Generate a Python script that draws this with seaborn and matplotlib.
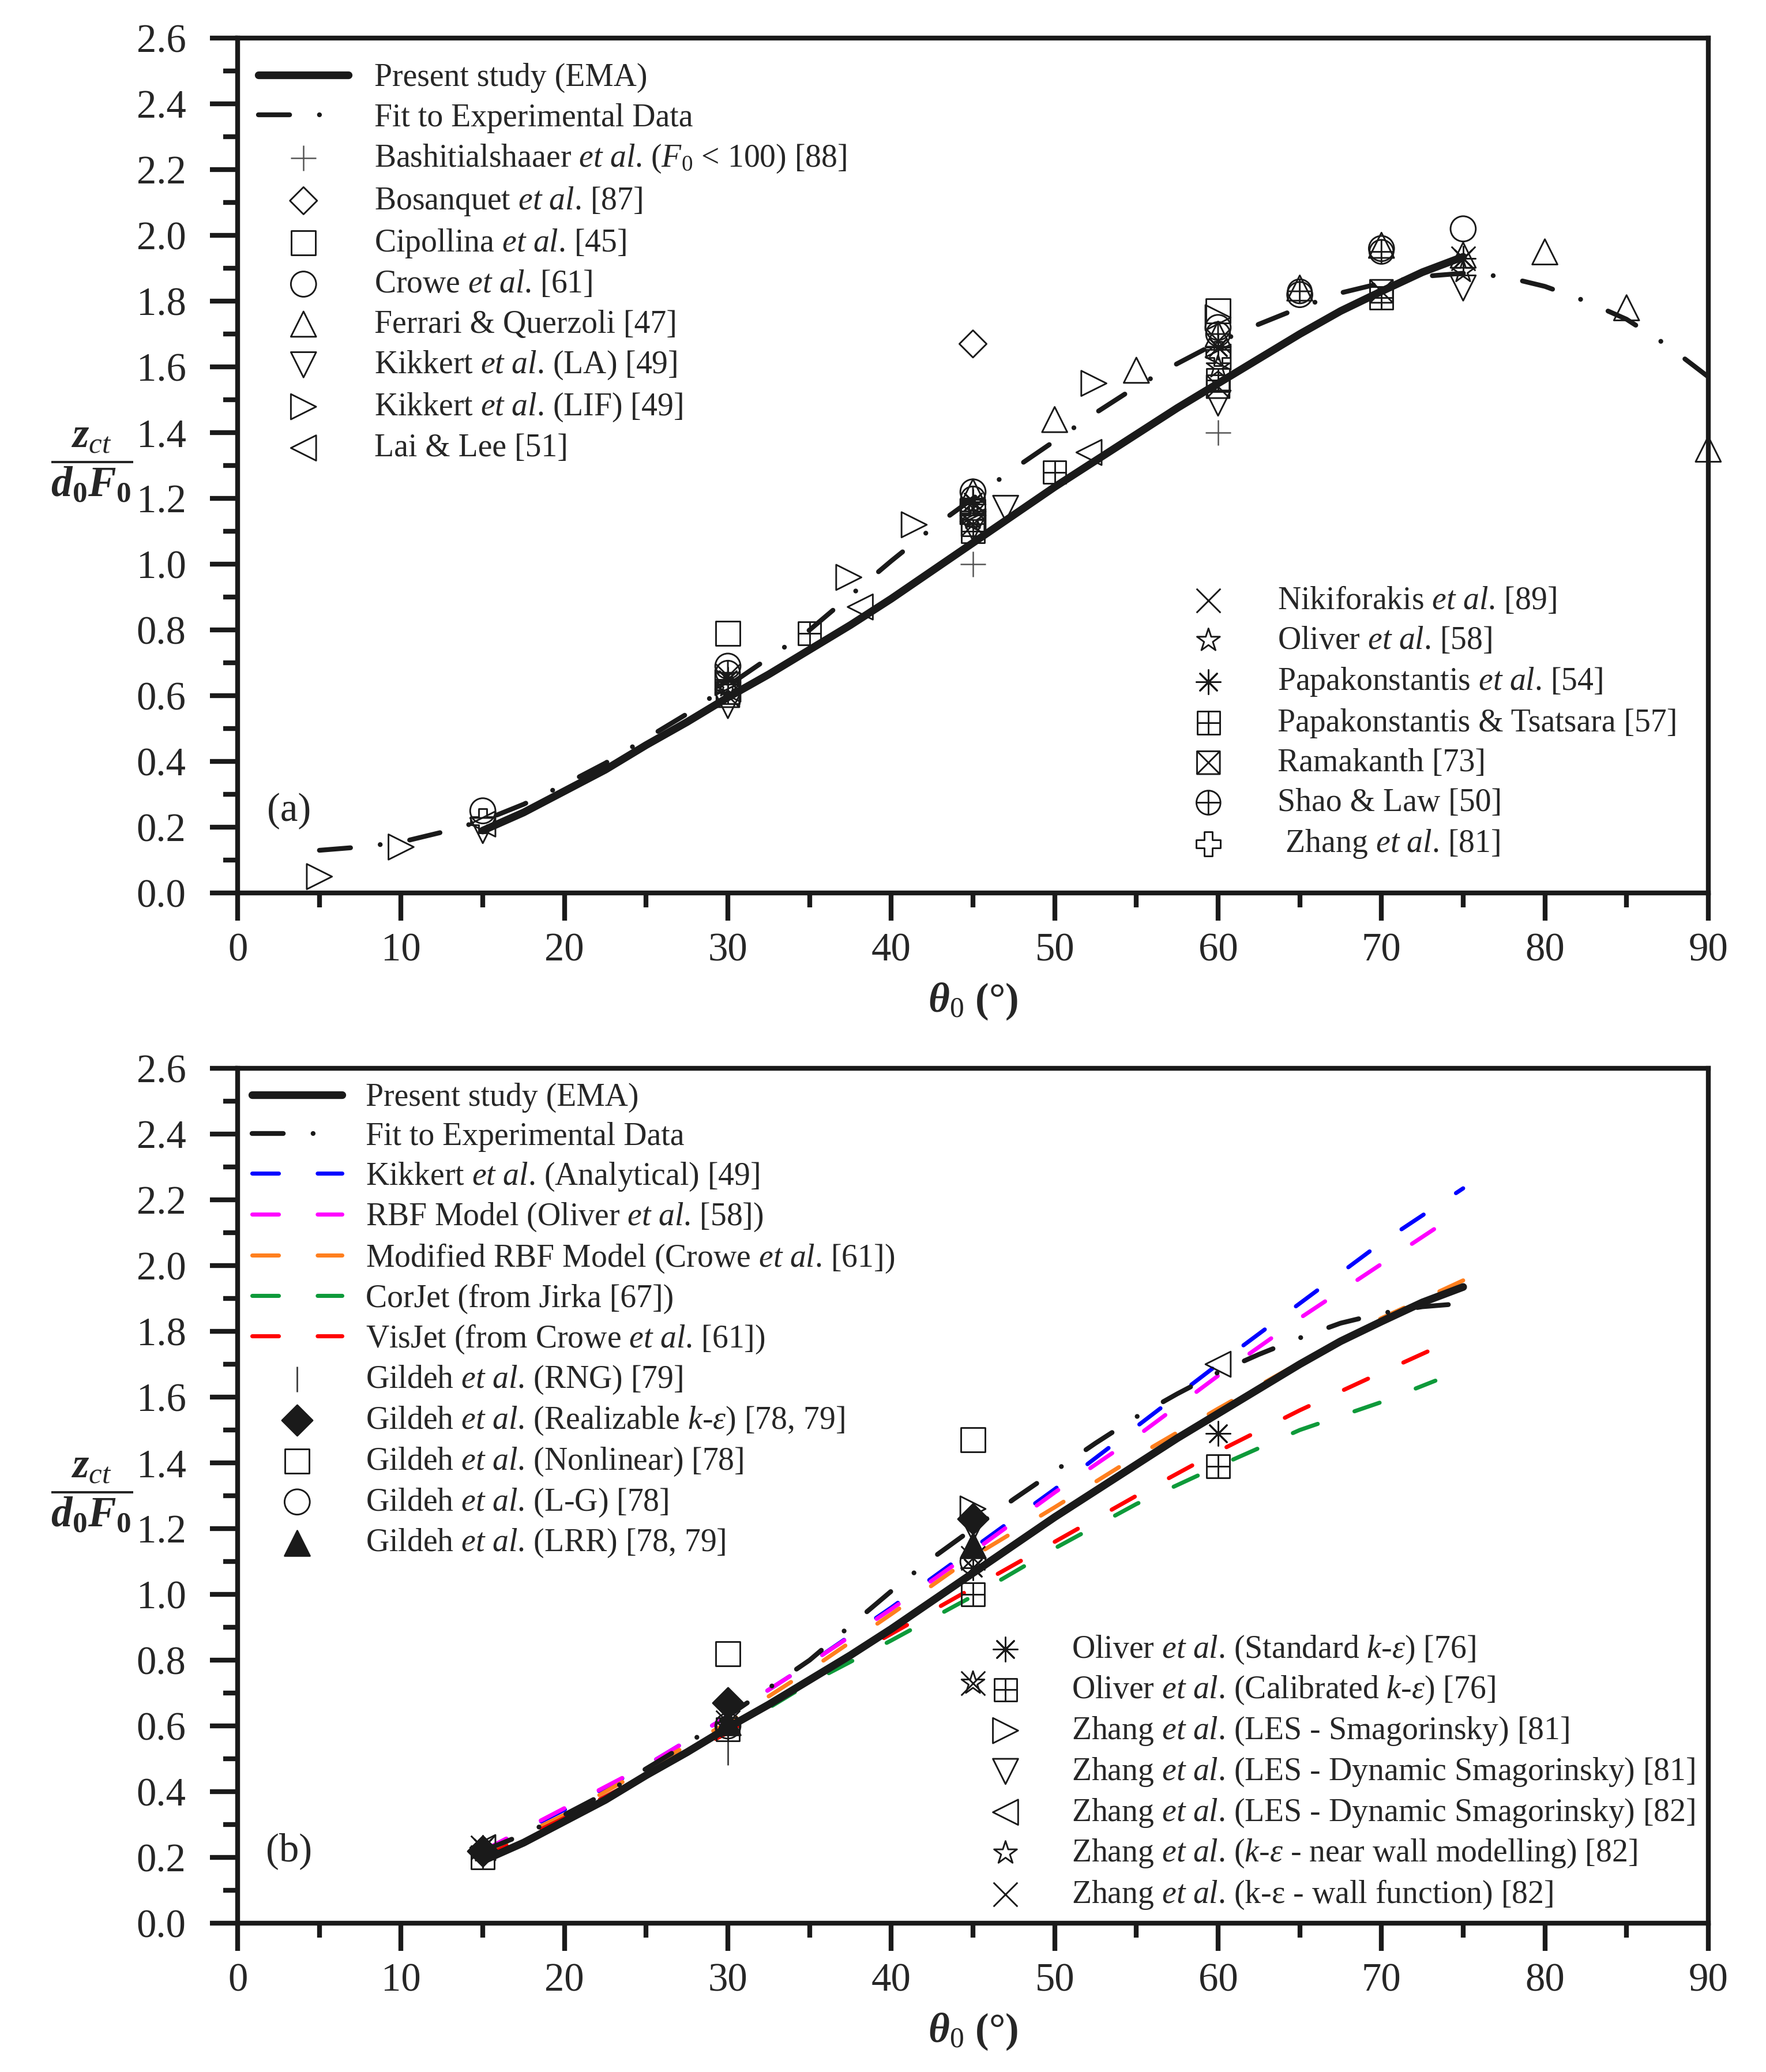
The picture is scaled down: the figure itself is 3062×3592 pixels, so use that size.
import numpy as np
import matplotlib
matplotlib.use("Agg")
import matplotlib.pyplot as plt
import seaborn as sns
from matplotlib.path import Path
from matplotlib.markers import MarkerStyle
from matplotlib.ticker import MultipleLocator, FormatStrFormatter

# ---------------- data: panel (a) ----------------
ema_x = [15, 17.5, 20, 22.5, 25, 27.5, 30, 32.5, 35, 37.5, 40, 42.5, 45, 47.5,
         50, 52.5, 55, 57.5, 60, 62.5, 65, 67.5, 70, 72.5, 75]
ema_y = [0.19, 0.245, 0.31, 0.375, 0.45, 0.52, 0.595, 0.665, 0.74, 0.815, 0.895, 0.98, 1.065, 1.15,
         1.235, 1.315, 1.395, 1.475, 1.55, 1.625, 1.70, 1.77, 1.83, 1.888, 1.935]

fit_x = [5, 7.5, 10, 12.5, 15, 17.5, 20, 22.5, 25, 27.5, 30, 32.5, 35, 37.5, 40, 42.5, 45,
         47.5, 50, 52.5, 55, 57.5, 60, 62.5, 65, 67.5, 70, 72.5, 75, 77.5, 80, 82.5, 85, 87.5, 90]
fit_y = [0.13, 0.14, 0.155, 0.185, 0.22, 0.27, 0.33, 0.395, 0.47, 0.545, 0.63, 0.715, 0.80, 0.905,
         1.01, 1.11, 1.20, 1.29, 1.375, 1.46, 1.54, 1.61, 1.675, 1.73, 1.78, 1.825, 1.855, 1.875,
         1.885, 1.875, 1.845, 1.80, 1.745, 1.665, 1.57]

bash_x = [45, 60]; bash_y = [1.00, 1.40]
bosq_x = [45]; bosq_y = [1.67]
cipo_x = [30, 45, 60]; cipo_y = [0.79, 1.16, 1.77]
crowe_x = [15, 30, 45, 60, 65, 70, 75]; crowe_y = [0.25, 0.69, 1.22, 1.72, 1.82, 1.96, 2.02]
ferr_x = [45, 50, 55, 60, 65, 70, 75, 80, 85, 90]
ferr_y = [1.22, 1.44, 1.59, 1.70, 1.84, 1.97, 1.94, 1.95, 1.78, 1.35]
kla_x = [15, 30, 45, 47, 60, 75]; kla_y = [0.19, 0.57, 1.11, 1.17, 1.49, 1.84]
klif_x = [5, 10, 30, 37.4, 41.4, 45, 52.4, 60]; klif_y = [0.05, 0.14, 0.64, 0.96, 1.12, 1.16, 1.55, 1.75]
lai_x = [15, 30, 38.1, 45, 52.1, 60]; lai_y = [0.21, 0.62, 0.87, 1.13, 1.34, 1.63]
niki_x = [30, 45, 60, 75]; niki_y = [0.66, 1.17, 1.68, 1.93]
oliv_x = [30, 45, 60, 75]; oliv_y = [0.63, 1.14, 1.60, 1.89]
papa_x = [30, 45, 60, 75]; papa_y = [0.65, 1.19, 1.66, 1.93]
pats_x = [30, 35, 45, 50, 60, 70]; pats_y = [0.61, 0.79, 1.10, 1.28, 1.56, 1.81]
rama_x = [30, 45, 60, 70]; rama_y = [0.60, 1.12, 1.54, 1.83]
shao_x = [30, 45, 60, 65, 70]; shao_y = [0.67, 1.20, 1.70, 1.83, 1.95]
zh81_x = [15, 30, 45, 60]; zh81_y = [0.22, 0.63, 1.15, 1.64]

# ---------------- data: panel (b) ----------------
fitb_x = fit_x[4:29]; fitb_y = fit_y[4:29]
mod_x = [15, 20, 25, 30, 35, 40, 45, 50, 55, 60, 65, 70, 75]
kik_y = [0.22, 0.345, 0.48, 0.63, 0.79, 0.96, 1.14, 1.32, 1.51, 1.70, 1.885, 2.07, 2.235]
rbf_x = [15, 20, 25, 30, 35, 40, 45, 50, 55, 60, 65, 70, 73.5]
rbf_y = [0.22, 0.35, 0.48, 0.63, 0.79, 0.955, 1.13, 1.31, 1.48, 1.665, 1.84, 2.005, 2.12]
mrbf_y = [0.21, 0.33, 0.47, 0.61, 0.77, 0.94, 1.115, 1.265, 1.42, 1.565, 1.705, 1.84, 1.955]
cj_x = [15, 20, 25, 30, 35, 40, 45, 50, 55, 60, 65, 70, 73.3]
cj_y = [0.20, 0.32, 0.45, 0.58, 0.73, 0.86, 0.995, 1.14, 1.275, 1.39, 1.50, 1.585, 1.65]
vj_x = [15, 20, 25, 30, 35, 40, 45, 50, 55, 60, 65, 70, 73.1]
vj_y = [0.20, 0.32, 0.45, 0.58, 0.74, 0.88, 1.02, 1.16, 1.30, 1.435, 1.56, 1.675, 1.745]

rng_x = [15, 30, 45]; rng_y = [0.21, 0.52, 1.10]
real_x = [15, 30, 45]; real_y = [0.22, 0.67, 1.23]
nonl_x = [30, 45]; nonl_y = [0.82, 1.47]
lg_x = [30, 45]; lg_y = [0.60, 1.10]
lrr_x = [30, 45]; lrr_y = [0.61, 1.15]
olst_x = [15, 45, 60]; olst_y = [0.23, 1.08, 1.49]
olca_x = [15, 30, 45, 60]; olca_y = [0.20, 0.59, 1.00, 1.39]
zles_x = [45]; zles_y = [1.26]
zdyn81_x = [45]; zdyn81_y = [1.20]
zdyn82_x = [15, 60]; zdyn82_y = [0.23, 1.70]
znw_x = [15, 30, 45]; znw_y = [0.22, 0.60, 0.73]
zwf_x = [15, 30, 45, 45]; zwf_y = [0.23, 0.61, 1.11, 0.73]

# ---------------- style ----------------
sns.set_theme(style="white")
plt.rcParams['font.family'] = ['Liberation Serif', 'DejaVu Serif']
plt.rcParams['mathtext.fontset'] = 'custom'
plt.rcParams['mathtext.rm'] = 'Liberation Serif'
plt.rcParams['mathtext.it'] = 'Liberation Serif:italic'
plt.rcParams['mathtext.bf'] = 'Liberation Serif:bold'
plt.rcParams['mathtext.bfit'] = 'Liberation Serif:bold:italic'

M, L, C = Path.MOVETO, Path.LINETO, Path.CLOSEPOLY
sq_v = [(-1, -1), (1, -1), (1, 1), (-1, 1), (-1, -1)]
sq_c = [M, L, L, L, C]
boxplus = Path(sq_v + [(0, -1), (0, 1), (-1, 0), (1, 0)], sq_c + [M, L, M, L])
boxx = Path(sq_v + [(-1, -1), (1, 1), (-1, 1), (1, -1)], sq_c + [M, L, M, L])
circplus = Path.make_compound_path(Path.unit_circle(),
                                   Path([(0, -1), (0, 1), (-1, 0), (1, 0)], [M, L, M, L]))
asterisk = (8, 2, 0)

EC = '#1a1a1a'
FS_LEG = 13.4


def pts(ax, x, y, marker, label, ms=10.5, fill='none', lw=0.7, color=EC):
    kw = dict(s=ms ** 2, marker=marker, linewidth=lw, legend=False, ax=ax,
              label=label, zorder=4, clip_on=False)
    if MarkerStyle(marker).is_filled():
        kw.update(facecolor=fill, edgecolor=color)
    else:
        kw.update(color=color)
    sns.scatterplot(x=x, y=y, **kw)
    return ax.collections[-1]


def line(ax, x, y, label, color, lw, ls, z=3):
    sns.lineplot(x=x, y=y, ax=ax, color=color, lw=lw, linestyle=ls, label=label,
                 legend=False, sort=False, estimator=None, zorder=z,
                 dash_capstyle='round', solid_capstyle='round', solid_joinstyle='round')
    return ax.lines[-1]


ETAL = r'$\mathit{et\ al}$.'
KE = r'$\mathit{k}$-$\mathit{\varepsilon}$'
DASH = (0, (6.5, 9.5))
DASHDOT = (0, (6.5, 6.2, 0.01, 6.2))

fig = plt.figure(figsize=(3062 / 300, 3592 / 300), dpi=300)
axa = fig.add_axes([0.1346, 0.5690, 0.8327, 0.4126])
axb = fig.add_axes([0.1346, 0.0718, 0.8327, 0.4126])


def style_axis(ax, lab):
    ax.set_xlim(0, 90)
    ax.set_ylim(0, 2.6)
    ax.xaxis.set_major_locator(MultipleLocator(10))
    ax.xaxis.set_minor_locator(MultipleLocator(5))
    ax.yaxis.set_major_locator(MultipleLocator(0.2))
    ax.yaxis.set_minor_locator(MultipleLocator(0.1))
    ax.yaxis.set_major_formatter(FormatStrFormatter('%.1f'))
    ax.tick_params(which='both', direction='out', width=2, color='k',
                   bottom=True, left=True, top=False, right=False)
    ax.tick_params(which='major', length=11.5, labelsize=16.5)
    ax.tick_params(which='minor', length=6)
    ax.tick_params(axis='y', which='major', pad=10)
    ax.tick_params(axis='x', which='major', pad=5)
    for s in ax.spines.values():
        s.set_linewidth(2)
        s.set_color('k')
    ax.set_facecolor('white')
    ax.grid(False)
    ax.set_xlabel(r'$\mathbfit{\theta}_0$ (°)', fontsize=17, fontweight='bold', labelpad=5)
    ax.set_ylabel(r'$\dfrac{\mathbfit{z}_{\mathit{ct}}}{\mathbfit{d}_{\mathbf{0}}\mathbfit{F}_{\mathbf{0}}}$',
                  fontsize=17.5, rotation=0, va='center', ha='center')
    ax.yaxis.set_label_coords(-0.099, 0.5)
    ax.text(0.035, 0.096 if lab == '(a)' else 0.084, lab, transform=ax.transAxes,
            fontsize=16.5, ha='center', va='center')


# ---------------- panel (a) ----------------
h_ema = line(axa, ema_x, ema_y, 'Present study (EMA)', 'k', 3.2, '-', z=5)
h_fit = line(axa, fit_x, fit_y, 'Fit to Experimental Data', 'k', 2.0, DASHDOT, z=5)
ha = [h_ema, h_fit,
      pts(axa, bash_x, bash_y, '+', 'Bashitialshaaer ' + ETAL + r' ($\mathit{F}_0$ < 100) [88]', color='#555555', lw=0.6),
      pts(axa, bosq_x, bosq_y, 'D', 'Bosanquet ' + ETAL + ' [87]', ms=8),
      pts(axa, cipo_x, cipo_y, 's', 'Cipollina ' + ETAL + ' [45]', ms=10),
      pts(axa, crowe_x, crowe_y, 'o', 'Crowe ' + ETAL + ' [61]'),
      pts(axa, ferr_x, ferr_y, '^', 'Ferrari & Querzoli [47]'),
      pts(axa, kla_x, kla_y, 'v', 'Kikkert ' + ETAL + ' (LA) [49]'),
      pts(axa, klif_x, klif_y, '>', 'Kikkert ' + ETAL + ' (LIF) [49]'),
      pts(axa, lai_x, lai_y, '<', 'Lai & Lee [51]')]
ha2 = [pts(axa, niki_x, niki_y, 'x', 'Nikiforakis ' + ETAL + ' [89]', ms=10),
       pts(axa, oliv_x, oliv_y, '*', 'Oliver ' + ETAL + ' [58]', ms=10),
       pts(axa, papa_x, papa_y, asterisk, 'Papakonstantis ' + ETAL + ' [54]', ms=10),
       pts(axa, pats_x, pats_y, boxplus, 'Papakonstantis & Tsatsara [57]', ms=9.5),
       pts(axa, rama_x, rama_y, boxx, 'Ramakanth [73]', ms=9.5),
       pts(axa, shao_x, shao_y, circplus, 'Shao & Law [50]', ms=10),
       pts(axa, zh81_x, zh81_y, 'P', ' Zhang ' + ETAL + ' [81]', ms=10)]
style_axis(axa, '(a)')

leg_kw = dict(frameon=False, fontsize=FS_LEG, borderpad=0, borderaxespad=0,
              loc='upper left', scatterpoints=1)
lga = axa.legend(handles=ha, bbox_to_anchor=(0.0141, 0.971), handlelength=2.8,
                 handletextpad=0.8, labelspacing=0.31, **leg_kw)
axa.add_artist(lga)
axa.legend(handles=ha2, bbox_to_anchor=(0.647, 0.360), handlelength=1.2,
           handletextpad=1.55, labelspacing=0.31, **leg_kw)

# ---------------- panel (b) ----------------
hb = [line(axb, ema_x, ema_y, 'Present study (EMA)', 'k', 3.2, '-', z=5),
      line(axb, fitb_x, fitb_y, 'Fit to Experimental Data', 'k', 2.0, DASHDOT, z=5),
      line(axb, mod_x, kik_y, 'Kikkert ' + ETAL + ' (Analytical) [49]', '#0000ff', 1.7, DASH),
      line(axb, rbf_x, rbf_y, 'RBF Model (Oliver ' + ETAL + ' [58])', '#ff00ff', 1.7, DASH),
      line(axb, mod_x, mrbf_y, 'Modified RBF Model (Crowe ' + ETAL + ' [61])', '#ff7f1e', 1.7, DASH),
      line(axb, cj_x, cj_y, 'CorJet (from Jirka [67])', '#0e9a3a', 1.7, DASH),
      line(axb, vj_x, vj_y, 'VisJet (from Crowe ' + ETAL + ' [61])', '#ff0000', 1.7, DASH),
      pts(axb, rng_x, rng_y, '|', 'Gildeh ' + ETAL + ' (RNG) [79]', color='#444444', lw=0.7),
      pts(axb, real_x, real_y, 'D', 'Gildeh ' + ETAL + ' (Realizable ' + KE + ') [78, 79]', ms=9, fill='k', color='k'),
      pts(axb, nonl_x, nonl_y, 's', 'Gildeh ' + ETAL + ' (Nonlinear) [78]', ms=10),
      pts(axb, lg_x, lg_y, 'o', 'Gildeh ' + ETAL + ' (L-G) [78]'),
      pts(axb, lrr_x, lrr_y, '^', 'Gildeh ' + ETAL + ' (LRR) [78, 79]', fill='k', color='k')]
hb2 = [pts(axb, olst_x, olst_y, asterisk, 'Oliver ' + ETAL + ' (Standard ' + KE + ') [76]', ms=10),
       pts(axb, olca_x, olca_y, boxplus, 'Oliver ' + ETAL + ' (Calibrated ' + KE + ') [76]', ms=9.5),
       pts(axb, zles_x, zles_y, '>', 'Zhang ' + ETAL + ' (LES - Smagorinsky) [81]'),
       pts(axb, zdyn81_x, zdyn81_y, 'v', 'Zhang ' + ETAL + ' (LES - Dynamic Smagorinsky) [81]'),
       pts(axb, zdyn82_x, zdyn82_y, '<', 'Zhang ' + ETAL + ' (LES - Dynamic Smagorinsky) [82]'),
       pts(axb, znw_x, znw_y, '*', 'Zhang ' + ETAL + ' (' + KE + ' - near wall modelling) [82]', ms=10),
       pts(axb, zwf_x, zwf_y, 'x', 'Zhang ' + ETAL + ' (k-ε - wall function) [82]', ms=10)]
style_axis(axb, '(b)')

lgb = axb.legend(handles=hb, bbox_to_anchor=(0.0098, 0.983), handlelength=2.8,
                 handletextpad=0.72, labelspacing=0.275, **leg_kw)
axb.add_artist(lgb)
axb.legend(handles=hb2, bbox_to_anchor=(0.509, 0.3387), handlelength=1.2,
           handletextpad=1.45, labelspacing=0.275, **leg_kw)

fig.savefig('out.png', dpi=300, facecolor='white')
